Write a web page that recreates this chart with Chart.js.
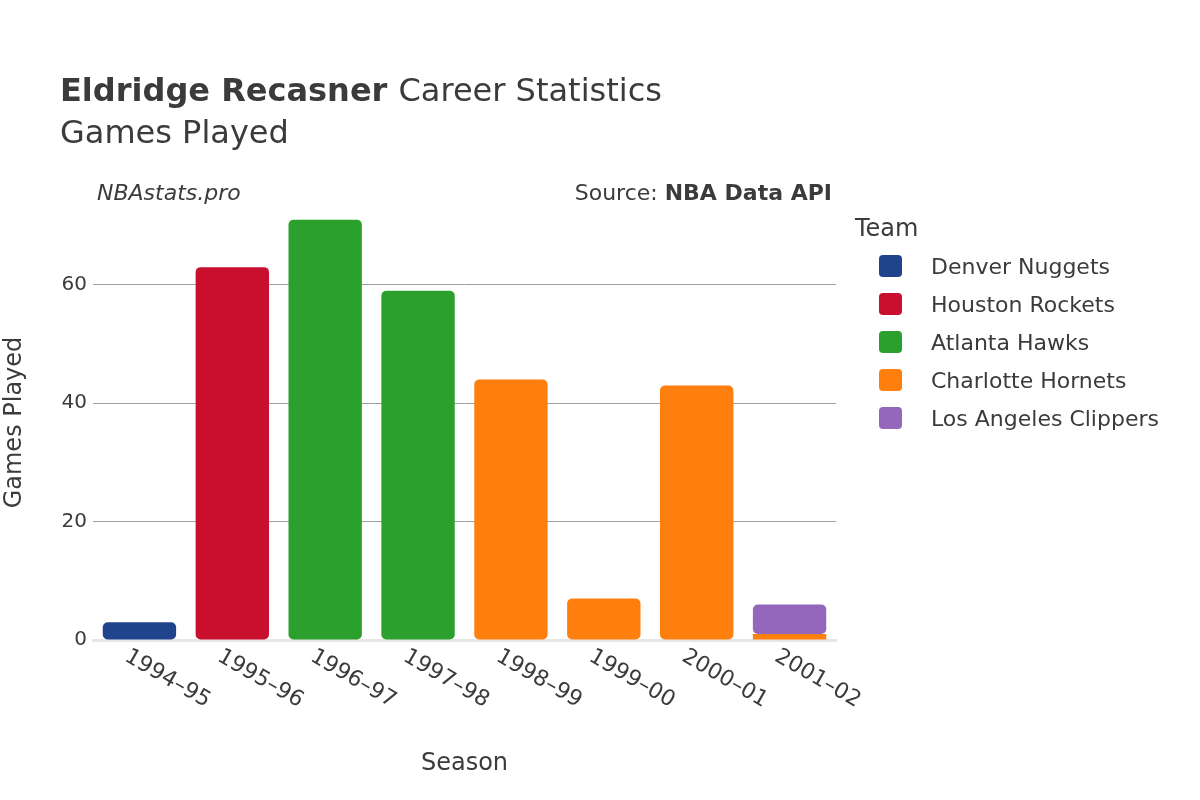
<!DOCTYPE html>
<html>
<head>
<meta charset="utf-8">
<script src="https://cdn.jsdelivr.net/npm/chart.js@4/dist/chart.umd.min.js"></script>
<style>
  html, body { margin: 0; padding: 0; background: #fff; }
  #wrap { width: 1200px; height: 800px; }
</style>
</head>
<body>
<div id="wrap"><canvas id="chart" width="1200" height="800"></canvas></div>
<script>
const seasons = ['1994–95', '1995–96', '1996–97', '1997–98', '1998–99', '1999–00', '2000–01', '2001–02'];
const teams = ['Denver Nuggets', 'Houston Rockets', 'Atlanta Hawks', 'Charlotte Hornets', 'Los Angeles Clippers'];
const colors = ['#1f448c', '#c8102e', '#2ca02c', '#ff7f0e', '#9467bd'];
const denver = [3, null, null, null, null, null, null, null];
const houston = [null, 63, null, null, null, null, null, null];
const atlanta = [null, null, 71, 59, null, null, null, null];
const charlotte = [null, null, null, null, 44, 7, 43, 1];
const clippers = [null, null, null, null, null, null, null, 5];
const yTicks = [0, 20, 40, 60];

const FONT = '"DejaVu Sans", sans-serif';
const TEXT = '#3b3b3b';

const series = [denver, houston, atlanta, charlotte, clippers];

const decor = {
  id: 'decor',
  afterDraw(chart) {
    const c = chart.ctx;
    const area = chart.chartArea;
    const x = chart.scales.x;
    c.save();
    c.fillStyle = TEXT;
    c.textBaseline = 'alphabetic';
    c.font = 'bold 32px ' + FONT;
    c.fillText('Eldridge Recasner', 60, 101);
    const w = c.measureText('Eldridge Recasner ').width;
    c.font = '32px ' + FONT;
    c.fillText('Career Statistics', 60 + w, 101);
    c.fillText('Games Played', 60, 143);
    c.font = 'italic 22px ' + FONT;
    c.fillText('NBAstats.pro', 97, 200);
    c.textAlign = 'right';
    c.font = 'bold 22px ' + FONT;
    c.fillText('NBA Data API', 832, 200);
    const bw = c.measureText('NBA Data API').width;
    c.font = '22px ' + FONT;
    c.fillText('Source: ', 832 - bw, 200);

    // x tick labels, rotated
    c.textAlign = 'left';
    c.font = '22px ' + FONT;
    seasons.forEach((s, i) => {
      const px = x.getPixelForValue(i);
      c.save();
      c.translate(px - 16, area.bottom + 20);
      c.rotate(Math.PI / 6);
      c.fillText(s, 0, 0);
      c.restore();
    });
    c.textAlign = 'center';
    c.font = '24px ' + FONT;
    c.fillText('Season', (area.left + area.right) / 2, 770);

    // legend
    c.textAlign = 'left';
    c.font = '24px ' + FONT;
    c.fillText('Team', 855, 236);
    c.font = '22px ' + FONT;
    teams.forEach((t, i) => {
      const y = 266 + i * 38;
      c.fillStyle = colors[i];
      c.beginPath();
      c.roundRect(879, y - 11, 23, 22, 4);
      c.fill();
      c.fillStyle = TEXT;
      c.fillText(t, 931, y + 8);
    });
    c.restore();
  }
};

new Chart(document.getElementById('chart'), {
  type: 'bar',
  data: {
    labels: seasons,
    datasets: teams.map((t, i) => ({
      label: t,
      data: series[i],
      backgroundColor: colors[i],
      borderRadius: 5,
      borderSkipped: false,
      categoryPercentage: 0.79,
      barPercentage: 1
    }))
  },
  options: {
    responsive: false,
    animation: false,
    layout: { padding: { top: 205, right: 364, left: 0, bottom: 0 } },
    plugins: { legend: { display: false }, tooltip: { enabled: false } },
    scales: {
      x: {
        stacked: true,
        grid: { display: false },
        border: { color: '#e6e6e6', width: 3 },
        ticks: { display: false },
        afterFit(scale) { scale.height = 160; }
      },
      y: {
        stacked: true,
        min: 0,
        max: 73.5,
        afterBuildTicks(scale) { scale.ticks = yTicks.map(v => ({ value: v })); },
        grid: {
          color: ctx => ctx.tick && ctx.tick.value === 0 ? 'rgba(0,0,0,0)' : '#a0a0a0',
          drawTicks: false
        },
        border: { display: false },
        ticks: { color: TEXT, font: { family: FONT, size: 20 }, padding: 6 },
        title: { display: true, text: 'Games Played', color: TEXT, font: { family: FONT, size: 24 }, padding: 0 },
        afterFit(scale) { scale.width = 93; }
      }
    }
  },
  plugins: [decor]
});
</script>
</body>
</html>
